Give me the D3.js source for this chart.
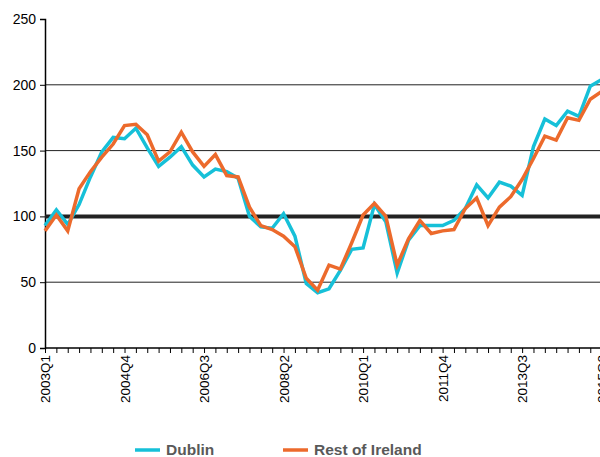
<!DOCTYPE html>
<html>
<head>
<meta charset="utf-8">
<script src="https://cdn.jsdelivr.net/npm/d3@7"></script>
<style>
  body { margin: 0; background: #fff; }
  svg { display: block; font-family: "Liberation Sans", Arial, sans-serif; }
</style>
</head>
<body>
<div id="my_dataviz"></div>
<script>
// quarters 2003Q1 .. 2015Q2
let quarters = []
for (let y = 2003; y <= 2015; y++) {
    for (let q = 1; q <= 4; q++) quarters.push(y + "Q" + q)
}
quarters = quarters.slice(0, 50)

let dublin = [93, 105, 94, 109, 130, 149, 160, 159, 167, 152,
    138, 145, 153, 139, 130, 136, 134, 129, 100, 92,
    91, 102, 85, 49, 42, 45, 59, 75, 76, 109,
    96, 57, 82, 93, 93, 93, 97, 106, 124, 114,
    126, 123, 116, 153, 174, 169, 180, 176, 199, 204]

let restOfIreland = [89, 101, 89, 121, 134, 145, 155, 169, 170, 162,
    142, 149, 164, 149, 138, 147, 131, 130, 107, 93,
    90, 85, 77, 53, 44, 63, 60, 80, 101, 110,
    100, 63, 83, 97, 87, 89, 90, 106, 114, 93,
    107, 115, 128, 144, 161, 158, 175, 173, 189, 195]

let yTicks = [0, 50, 100, 150, 200, 250]
let labelEvery = 7

var width = 600, height = 457
var margin = { top: 19, left: 45, bottom: 109 }

var svg = d3.select("#my_dataviz")
    .append("svg")
    .attr("width", width)
    .attr("height", height)

var x = d3.scaleLinear()
    .domain([0, quarters.length - 1])
    .range([margin.left, margin.left + 11.36 * (quarters.length - 1)])

var y = d3.scaleLinear()
    .domain([0, 250])
    .range([height - margin.bottom, margin.top])

// gridlines
svg.append("g")
    .selectAll("line")
    .data([50, 150, 200])
    .enter()
    .append("line")
    .attr("x1", margin.left)
    .attr("x2", width)
    .attr("y1", d => y(d))
    .attr("y2", d => y(d))
    .attr("stroke", "#222")
    .attr("stroke-width", 1)

// Y axis
var yAxis = svg.append("g")
    .attr("transform", "translate(" + margin.left + ",0)")
    .call(d3.axisLeft(y).tickValues(yTicks).tickSize(5).tickPadding(4))
yAxis.select(".domain").attr("stroke", "#000").attr("stroke-width", 1.5)
yAxis.selectAll(".tick line").attr("stroke", "#000")
yAxis.selectAll("text").style("font-size", "14px").attr("fill", "#000")

// X axis
var xAxis = svg.append("g")
    .attr("transform", "translate(0," + y(0) + ")")
    .call(d3.axisBottom(x)
        .tickValues(d3.range(0, quarters.length + 2))
        .tickSize(5)
        .tickFormat(i => (i % labelEvery === 0 && quarters[i]) ? quarters[i] : ""))
xAxis.select(".domain").attr("stroke", "#000").attr("stroke-width", 1.5)
    .attr("d", "M" + margin.left + ",0H" + width)
xAxis.selectAll(".tick line").attr("stroke", "#000")
xAxis.selectAll("text")
    .style("font-size", "13.5px")
    .attr("fill", "#000")
    .attr("transform", "rotate(-90)")
    .attr("x", -7)
    .attr("y", 0)
    .attr("dy", "0.35em")
    .style("text-anchor", "end")

// thick 100 line
svg.append("line")
    .attr("x1", margin.left)
    .attr("x2", width)
    .attr("y1", y(100))
    .attr("y2", y(100))
    .attr("stroke", "#222")
    .attr("stroke-width", 4)

var line = d3.line()
    .x((d, i) => x(i))
    .y(d => y(d))

var series = [
    { name: "Dublin", values: dublin, color: "#16c0d8" },
    { name: "Rest of Ireland", values: restOfIreland, color: "#ec6a2c" }
]

svg.selectAll("path.series")
    .data(series)
    .enter()
    .append("path")
    .attr("class", "series")
    .attr("d", d => line(d.values))
    .attr("fill", "none")
    .attr("stroke", d => d.color)
    .attr("stroke-width", 3.5)
    .attr("stroke-linejoin", "miter")

// legend
var legendX = [135, 283]
var legend = svg.selectAll("g.legend")
    .data(series)
    .enter()
    .append("g")
    .attr("class", "legend")
    .attr("transform", (d, i) => "translate(" + legendX[i] + ",450)")
legend.append("line")
    .attr("x1", 0).attr("x2", 25)
    .attr("stroke", d => d.color)
    .attr("stroke-width", 3.5)
legend.append("text")
    .attr("x", 31)
    .attr("dy", "0.35em")
    .style("font-size", "15.5px")
    .style("font-weight", "bold")
    .attr("fill", "#595959")
    .text(d => d.name)
</script>
</body>
</html>
